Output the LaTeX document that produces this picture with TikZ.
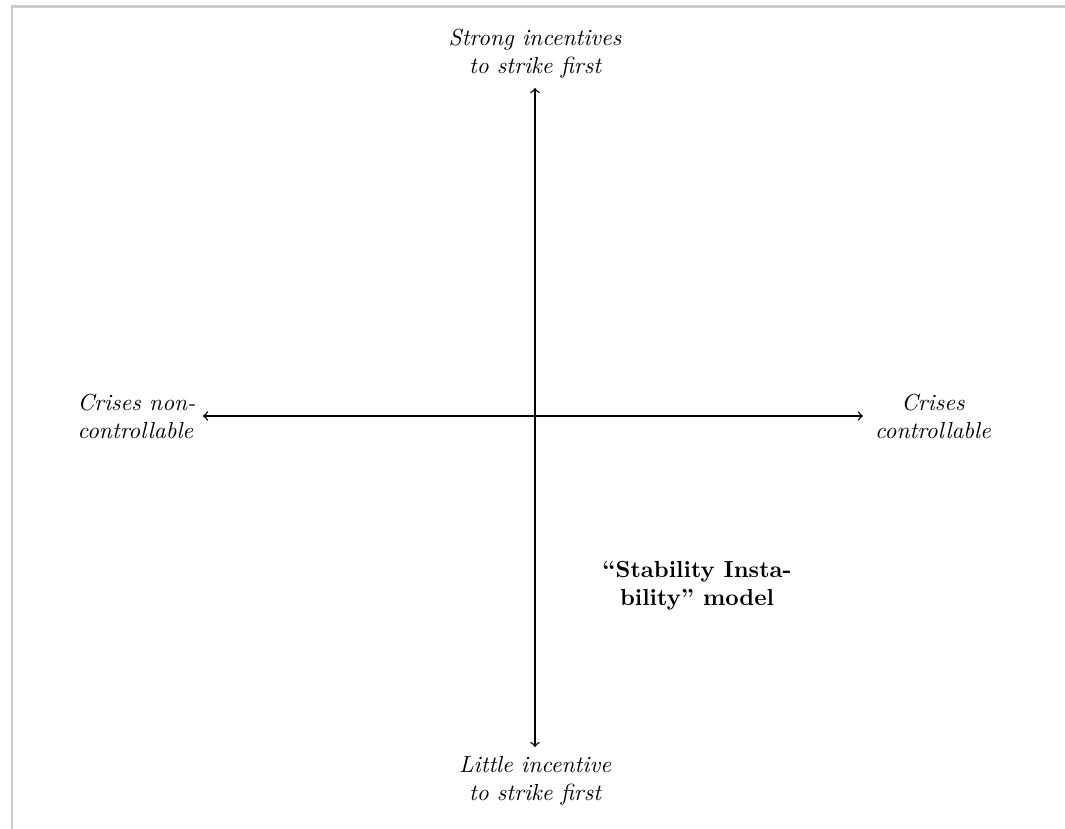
\documentclass[tikz,border=0pt]{standalone}
\usepackage{tikz}

\begin{document}
\begin{tikzpicture}[x=0.43pt, y=-0.43pt,
    axis/.style={semithick, <->, >=to},
    pole/.style={font=\itshape, align=center, inner sep=4pt},
    model/.style={font=\bfseries, align=center},
    frame/.style={line width=1pt, black!20}
]
    \useasboundingbox (0,0) rectangle (1065,829);
    \draw[frame] (12,829) -- (12,6.5) -- (1065,6.5);

    % axis ends
    \coordinate (n) at (535,88);
    \coordinate (s) at (535,747);
    \coordinate (w) at (203,416);
    \coordinate (e) at (863,416);

    \draw[axis] (s) -- (n);
    \draw[axis] (w) -- (e);

    \node[pole, anchor=south] (strong) at (n) {Strong incentives\\to strike first};
    \node[pole, anchor=north] (little) at (s) {Little incentive\\to strike first};
    \node[pole, anchor=east, align=left, inner sep=3pt] (noncontrol) at (w) {Crises non-\\controllable};
    \node[pole, anchor=west, inner sep=5pt] (control) at (e) {Crises\\controllable};

    \node[model] (stab) at (697,586) {``Stability Insta-\\bility'' model};
\end{tikzpicture}
\end{document}
